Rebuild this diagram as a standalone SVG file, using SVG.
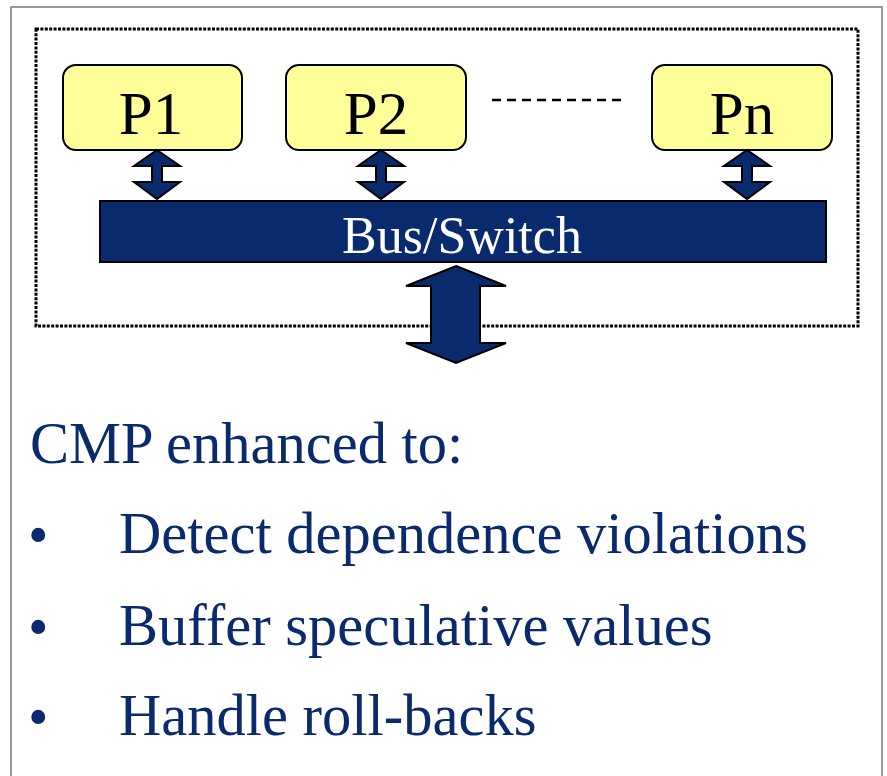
<svg xmlns="http://www.w3.org/2000/svg" width="887" height="776" viewBox="0 0 887 776">
  <defs>
    <style>
      .frame { fill: none; stroke: #7a7a7a; stroke-width: 1.5; }
      .chip { fill: none; stroke: #000; stroke-width: 3; stroke-dasharray: 3 1.4; }
      .proc { fill: #ffff99; stroke: #000; stroke-width: 2; }
      .ptxt { font-family: "Liberation Serif", "Times New Roman", serif; font-size: 61px; fill: #000; text-anchor: middle; }
      .bus { fill: #0a2a6e; stroke: #000; stroke-width: 2; }
      .btxt { font-family: "Liberation Serif", "Times New Roman", serif; font-size: 52px; fill: #fff; text-anchor: middle; }
      .arr { fill: #0a2a6e; stroke: #000; stroke-width: 2; stroke-linejoin: miter; }
      .dash { stroke: #000; stroke-width: 2.5; stroke-dasharray: 9 6; }
      .body { font-family: "Liberation Serif", "Times New Roman", serif; font-size: 58.5px; fill: #0a2a6e; }
    </style>
    <!-- small double-headed vertical arrow centred on x=0, from y=0 to y=49 -->
    <path id="link" d="M0,0 L23,16 L5,16 L5,32 L23,32 L0,49 L-23,32 L-5,32 L-5,16 L-23,16 Z"/>
  </defs>

  <!-- slide frame -->
  <path class="frame" d="M11,780 L11,7 L882,7 L882,780"/>

  <!-- chip boundary -->
  <rect class="chip" x="36" y="29" width="822" height="297"/>

  <g id="p1">
    <rect class="proc" x="63" y="65" width="179" height="85" rx="13"/>
    <text class="ptxt" x="151" y="134">P1</text>
  </g>
  <g id="p2">
    <rect class="proc" x="286" y="65" width="180" height="85" rx="13"/>
    <text class="ptxt" x="376" y="134">P2</text>
  </g>
  <g id="pn">
    <rect class="proc" x="652" y="65" width="180" height="85" rx="13"/>
    <text class="ptxt" x="742" y="134">Pn</text>
  </g>

  <g id="bus-switch">
    <rect class="bus" x="100" y="201" width="726" height="61"/>
    <text class="btxt" x="462" y="253">Bus/Switch</text>
  </g>

  <g id="connectors">
    <line class="dash" x1="492" y1="100" x2="625" y2="100"/>
    <use href="#link" class="arr" x="157" y="150"/>
    <use href="#link" class="arr" x="381" y="150"/>
    <use href="#link" class="arr" x="747" y="150"/>
    <path class="arr" d="M456,266 L506,286 L480,286 L480,343 L506,343 L456,363 L406,343 L431,343 L431,286 L406,286 Z"/>
  </g>

  <g id="notes">
    <text class="body" x="30" y="463">CMP enhanced to:</text>
    <text class="body" x="28" y="555">•</text>
    <text class="body" x="119" y="553">Detect dependence violations</text>
    <text class="body" x="28" y="647">•</text>
    <text class="body" x="119" y="645">Buffer speculative values</text>
    <text class="body" x="28" y="737">•</text>
    <text class="body" x="119" y="735">Handle roll-backs</text>
  </g>
</svg>
